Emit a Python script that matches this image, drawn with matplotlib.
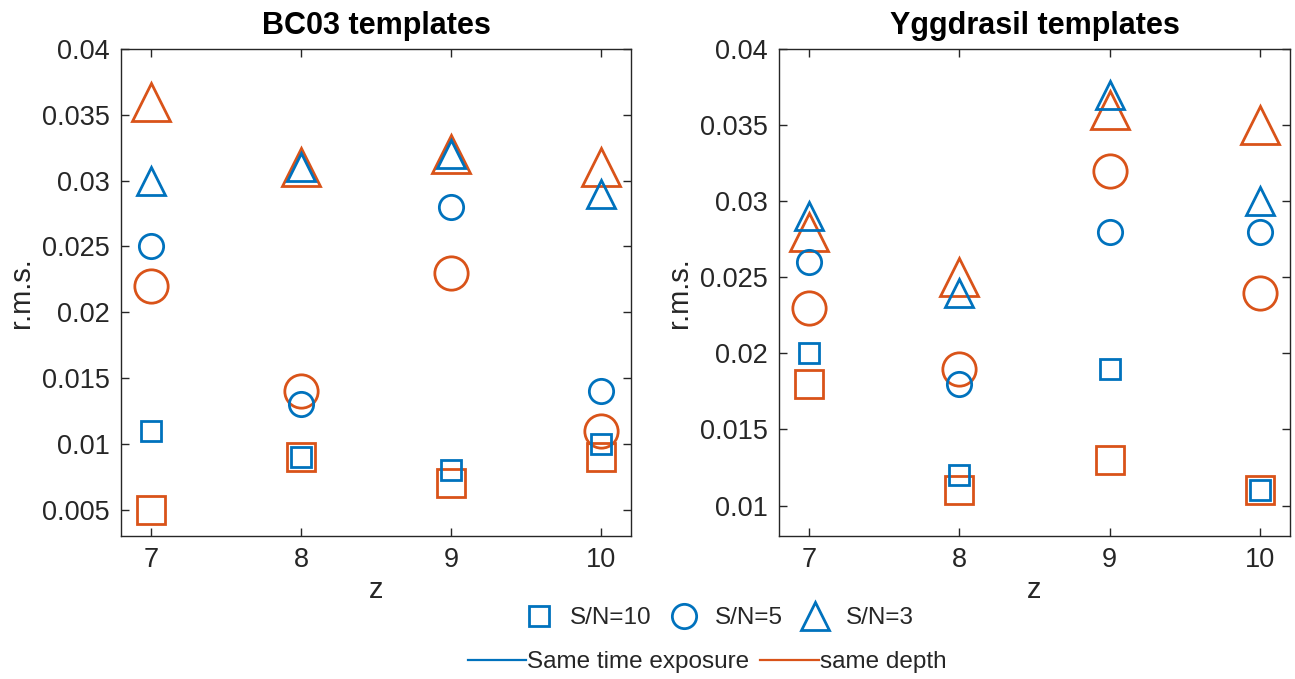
import matplotlib.pyplot as plt
from matplotlib.lines import Line2D
from matplotlib.ticker import FuncFormatter

plt.rcParams['font.family'] = ['Liberation Sans', 'DejaVu Sans']

# redshift
z = [7, 8, 9, 10]

# BC03 templates, r.m.s.
bc03_time_sn10 = [0.011, 0.009, 0.008, 0.010]
bc03_time_sn5 = [0.025, 0.013, 0.028, 0.014]
bc03_time_sn3 = [0.030, 0.031, 0.032, 0.029]
bc03_depth_sn10 = [0.005, 0.009, 0.007, 0.009]
bc03_depth_sn5 = [0.022, 0.014, 0.023, 0.011]
bc03_depth_sn3 = [0.036, 0.031, 0.032, 0.031]

# Yggdrasil templates, r.m.s.
ygg_time_sn10 = [0.020, 0.012, 0.019, 0.011]
ygg_time_sn5 = [0.026, 0.018, 0.028, 0.028]
ygg_time_sn3 = [0.029, 0.024, 0.037, 0.030]
ygg_depth_sn10 = [0.018, 0.011, 0.013, 0.011]
ygg_depth_sn5 = [0.023, 0.019, 0.032, 0.024]
ygg_depth_sn3 = [0.028, 0.025, 0.036, 0.035]

blue = '#0072BD'
orange = '#D95319'
dark = '#262626'

fig = plt.figure(figsize=(12.95, 6.79), dpi=100)
ax1 = fig.add_axes([0.0934, 0.2106, 0.3938, 0.7172])
ax2 = fig.add_axes([0.6015, 0.2106, 0.3947, 0.7172])


def draw(ax, depth, time, title, ylim, yticks):
    d10, d5, d3 = depth
    t10, t5, t3 = time
    ax.plot(z, d10, 's', ms=19.5, mfc='none', mec=orange, mew=2.0, ls='none')
    ax.plot(z, d5, 'o', ms=24, mfc='none', mec=orange, mew=2.0, ls='none')
    ax.plot(z, d3, '^', ms=27, mfc='none', mec=orange, mew=2.0, ls='none')
    ax.plot(z, t10, 's', ms=14, mfc='none', mec=blue, mew=2.0, ls='none')
    ax.plot(z, t5, 'o', ms=17.5, mfc='none', mec=blue, mew=2.0, ls='none')
    ax.plot(z, t3, '^', ms=20.5, mfc='none', mec=blue, mew=2.0, ls='none')
    ax.set_xlim(6.8, 10.2)
    ax.set_ylim(*ylim)
    ax.set_xticks(z)
    ax.set_yticks(yticks)
    ax.yaxis.set_major_formatter(FuncFormatter(lambda v, p: '%g' % v))
    ax.tick_params(direction='in', top=True, right=True, length=6, width=1.0,
                   colors=dark, labelsize=19.5, pad=8)
    for s in ax.spines.values():
        s.set_color(dark)
        s.set_linewidth(1.0)
    ax.set_title(title, fontsize=22, fontweight='bold', pad=11)
    ax.set_xlabel('z', fontsize=21, color=dark, labelpad=2)
    ax.set_ylabel('r.m.s.', fontsize=21, color=dark, labelpad=5)


draw(ax1, (bc03_depth_sn10, bc03_depth_sn5, bc03_depth_sn3),
     (bc03_time_sn10, bc03_time_sn5, bc03_time_sn3),
     'BC03 templates', (0.003, 0.04),
     [0.005, 0.01, 0.015, 0.02, 0.025, 0.03, 0.035, 0.04])
draw(ax2, (ygg_depth_sn10, ygg_depth_sn5, ygg_depth_sn3),
     (ygg_time_sn10, ygg_time_sn5, ygg_time_sn3),
     'Yggdrasil templates', (0.008, 0.04),
     [0.01, 0.015, 0.02, 0.025, 0.03, 0.035, 0.04])

sn_labels = ['S/N=10', 'S/N=5', 'S/N=3']
marker_handles = [
    Line2D([], [], marker='s', ms=14, mfc='none', mec=blue, mew=2.0, ls='none'),
    Line2D([], [], marker='o', ms=17.5, mfc='none', mec=blue, mew=2.0, ls='none'),
    Line2D([], [], marker='^', ms=20.5, mfc='none', mec=blue, mew=2.0, ls='none'),
]
leg1 = fig.legend(marker_handles, sn_labels, loc='center',
                  bbox_to_anchor=(717.5 / 1295, 1 - 618 / 679), ncol=3,
                  frameon=False, fontsize=17.5, handlelength=1.5,
                  handletextpad=0.5, columnspacing=0.6)
for t in leg1.get_texts():
    t.set_color(dark)

exposure_labels = ['Same time exposure', 'same depth']
line_handles = [Line2D([], [], color=blue, lw=1.6),
                Line2D([], [], color=orange, lw=1.6)]
leg2 = fig.legend(line_handles, exposure_labels, loc='center',
                  bbox_to_anchor=(707 / 1295, 1 - 662 / 679), ncol=2,
                  frameon=False, fontsize=17.5, handlelength=2.4,
                  handletextpad=0.05, columnspacing=0.45)
for t in leg2.get_texts():
    t.set_color(dark)

fig.savefig('out.png', dpi=100)
